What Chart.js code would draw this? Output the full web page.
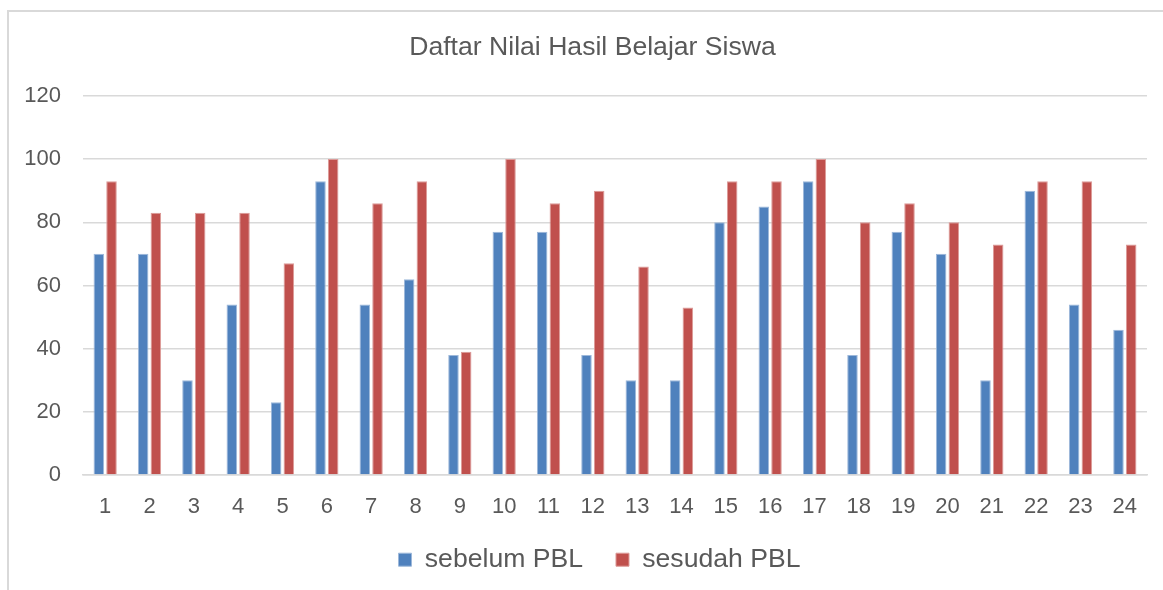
<!DOCTYPE html>
<html>
<head>
<meta charset="utf-8">
<title>Daftar Nilai Hasil Belajar Siswa</title>
<script src="https://cdn.jsdelivr.net/npm/chart.js@4/dist/chart.umd.min.js"></script>
<style>
  html, body { margin: 0; padding: 0; background: #fff; overflow: hidden; }
  #frame {
    position: absolute; left: 7px; top: 10px;
    width: 1200px; height: 640px;
    border: 2px solid #d9d9d9; box-sizing: border-box;
  }
  #wrap { position: absolute; left: 0; top: 0; width: 1163px; height: 590px; }
</style>
</head>
<body>
<div id="frame"></div>
<div id="wrap"><canvas id="chart"></canvas></div>
<script>
// data
const students = ['1','2','3','4','5','6','7','8','9','10','11','12',
                  '13','14','15','16','17','18','19','20','21','22','23','24'];
const sebelum = [70, 70, 30, 54, 23, 93, 54, 62, 38, 77, 77, 38,
                 30, 30, 80, 85, 93, 38, 77, 70, 30, 90, 54, 46];
const sesudah = [93, 83, 83, 83, 67, 100, 86, 93, 39, 100, 86, 90,
                 66, 53, 93, 93, 100, 80, 86, 80, 73, 93, 93, 73];
const yTicks = [0, 20, 40, 60, 80, 100, 120];

const textColor = '#595959';
const gridColor = '#d9d9d9';
const font = 'Liberation Sans, Arial, sans-serif';

// the original chart is wider than the visible crop, so its title and
// legend sit a little right of our canvas centre
const nudge = {
    id: 'nudge',
    afterLayout(chart) {
        const t = chart.titleBlock;
        t.left += 19; t.right += 19;
        const l = chart.legend;
        l.left += 26; l.right += 26;
        l.top -= 7; l.bottom -= 7;
    }
};

const ctx = document.getElementById('chart').getContext('2d');
new Chart(ctx, {
    type: 'bar',
    data: {
        labels: students,
        datasets: [
            {
                label: 'sebelum PBL',
                data: sebelum,
                backgroundColor: '#4f81bd',
                borderColor: '#9db8da',
                borderWidth: 1
            },
            {
                label: 'sesudah PBL',
                data: sesudah,
                backgroundColor: '#c0504d',
                borderColor: '#dc9a98',
                borderWidth: 1
            }
        ]
    },
    plugins: [nudge],
    options: {
        responsive: true,
        maintainAspectRatio: false,
        animation: false,
        datasets: {
            bar: { categoryPercentage: 0.573, barPercentage: 0.83 }
        },
        layout: { padding: { left: 0, right: 16, top: 0, bottom: 0 } },
        plugins: {
            title: {
                display: true,
                text: 'Daftar Nilai Hasil Belajar Siswa',
                color: textColor,
                font: { family: font, size: 26.6, weight: 'normal' },
                padding: { top: 32, bottom: 32 }
            },
            legend: {
                position: 'bottom',
                labels: {
                    color: textColor,
                    font: { family: font, size: 26.6 },
                    boxWidth: 13,
                    boxHeight: 13,
                    padding: 33
                }
            },
            tooltip: { enabled: false }
        },
        scales: {
            x: {
                grid: { display: false, drawTicks: false },
                border: { display: true, color: gridColor, width: 1.5 },
                ticks: {
                    color: textColor,
                    font: { family: font, size: 22 },
                    padding: 19,
                    maxRotation: 0,
                    autoSkip: false
                },
                afterFit: scale => { scale.height = 45.4; }
            },
            y: {
                min: 0,
                max: 120,
                afterBuildTicks: scale => {
                    scale.ticks = yTicks.map(v => ({ value: v }));
                },
                grid: { color: gridColor, lineWidth: 1.5, drawTicks: false },
                border: { display: false },
                ticks: {
                    color: textColor,
                    font: { family: font, size: 22 },
                    padding: 22
                },
                afterFit: scale => { scale.width = 83; }
            }
        }
    }
});
</script>
</body>
</html>
